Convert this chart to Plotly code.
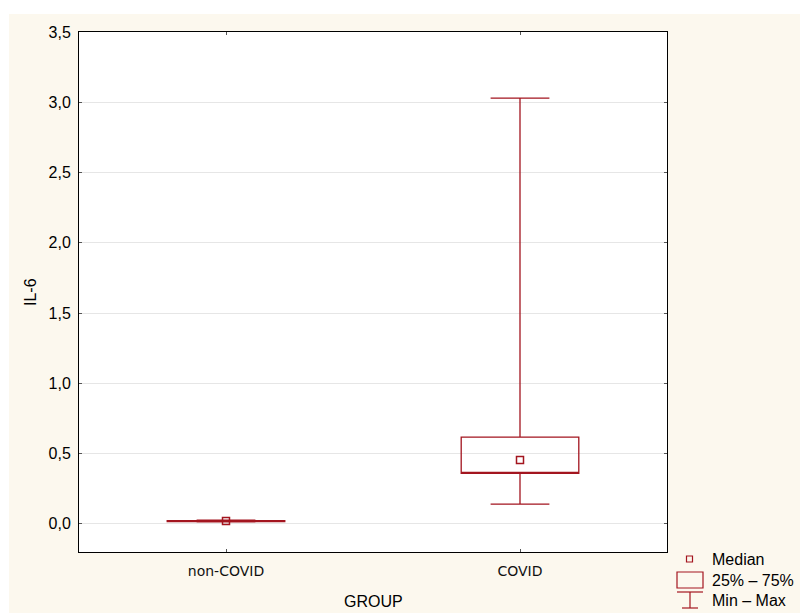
import plotly.graph_objects as go

groups = ["non-COVID", "COVID"]
q1 = [0.017, 0.36]
median = [0.02, 0.455]
q3 = [0.023, 0.617]
vmin = [0.014, 0.14]
vmax = [0.027, 3.03]
y_ticks = [0.0, 0.5, 1.0, 1.5, 2.0, 2.5, 3.0, 3.5]

RED = "#a3151f"
CREAM = "#fcf8ee"

fig = go.Figure()
fig.add_trace(go.Box(
    x=groups, q1=q1, median=q1, q3=q3, lowerfence=vmin, upperfence=vmax,
    width=0.4, whiskerwidth=0.5, fillcolor="rgba(0,0,0,0)",
    line=dict(color=RED, width=1.3), boxpoints=False, hoverinfo="skip",
    showlegend=False,
))
fig.add_trace(go.Scatter(
    x=groups, y=median, mode="markers",
    marker=dict(symbol="square-open", size=7, color=RED, line=dict(width=1.5, color=RED)),
    showlegend=False,
))

L, R, T, B = 79, 133, 32, 61
W, H = 800, 613
pw, ph = W - L - R, H - T - B
def px(x):
    return (x - L) / pw
def py(y):
    return (H - B - y) / ph

shapes = [
    dict(type="rect", xref="paper", yref="paper", x0=px(9), x1=px(800), y0=py(613), y1=py(14),
         fillcolor=CREAM, line=dict(width=0), layer="below"),
    dict(type="rect", xref="paper", yref="paper", x0=0, x1=1, y0=0, y1=1,
         fillcolor="white", line=dict(width=0), layer="below"),
    # legend symbols
    dict(type="rect", xref="paper", yref="paper", x0=px(686.5), x1=px(692.5), y0=py(562), y1=py(556),
         line=dict(color=RED, width=1.2), fillcolor="rgba(0,0,0,0)"),
    dict(type="rect", xref="paper", yref="paper", x0=px(677), x1=px(703), y0=py(588), y1=py(572),
         line=dict(color=RED, width=1.2), fillcolor="rgba(0,0,0,0)"),
    dict(type="line", xref="paper", yref="paper", x0=px(677), x1=px(703), y0=py(592), y1=py(592),
         line=dict(color=RED, width=1.2)),
    dict(type="line", xref="paper", yref="paper", x0=px(690), x1=px(690), y0=py(592), y1=py(608),
         line=dict(color=RED, width=1.2)),
    dict(type="line", xref="paper", yref="paper", x0=px(682), x1=px(698), y0=py(608), y1=py(608),
         line=dict(color=RED, width=1.2)),
]

legend_labels = ["Median", "25% \u2013 75%", "Min \u2013 Max"]
legend_y = [559, 580, 600]
annotations = [
    dict(text=t, xref="paper", yref="paper", x=px(710), y=py(yy), xanchor="left", yanchor="middle",
         showarrow=False, font=dict(family="Liberation Sans, Arial", size=16, color="black"))
    for t, yy in zip(legend_labels, legend_y)
]
annotations.append(dict(text="GROUP", xref="paper", yref="paper", x=0.5, y=py(601),
                        xanchor="center", yanchor="middle", showarrow=False,
                        font=dict(family="Liberation Sans, Arial", size=16, color="black")))
annotations.append(dict(text="IL-6", xref="paper", yref="paper", x=px(30), y=0.5, textangle=-90,
                        xanchor="center", yanchor="middle", showarrow=False,
                        font=dict(family="Liberation Sans, Arial", size=16, color="black")))

fig.update_layout(
    width=W, height=H,
    margin=dict(l=L, r=R, t=T, b=B, pad=0, autoexpand=False),
    paper_bgcolor="white", plot_bgcolor="white",
    separators=", ",
    shapes=shapes, annotations=annotations,
    font=dict(family="Liberation Sans, Arial", size=16, color="black"),
    xaxis=dict(
        type="category", range=[-0.5, 1.5], showgrid=False, zeroline=False,
        showline=True, linecolor="black", linewidth=1, mirror="ticks",
        ticks="inside", ticklen=3, tickcolor="#555", automargin=False,
        tickfont=dict(family="DejaVu Sans", size=14, color="#111"),
        ticklabelstandoff=6,
    ),
    yaxis=dict(
        range=[-0.2, 3.5], tickvals=y_ticks, tickformat=".1f",
        showgrid=True, gridcolor="#e6e6e6", gridwidth=1, zeroline=False,
        showline=True, linecolor="black", linewidth=1, mirror="ticks",
        ticks="inside", ticklen=3, tickcolor="#555", automargin=False,
        tickfont=dict(size=16), ticklabelstandoff=4,
    ),
)

fig.write_html("out.html")
